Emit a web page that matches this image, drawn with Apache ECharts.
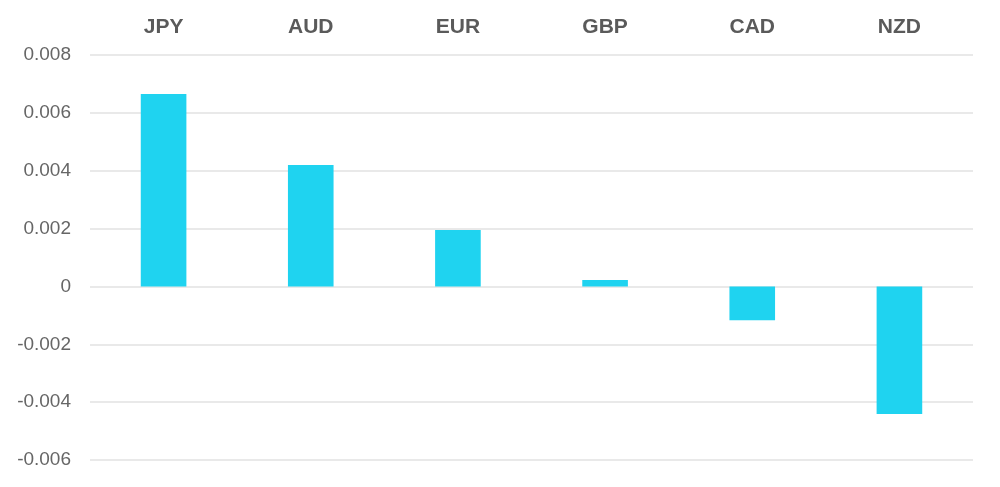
<!DOCTYPE html>
<html>
<head>
<meta charset="utf-8">
<script src="https://cdn.jsdelivr.net/npm/echarts@6/dist/echarts.min.js"></script>
<style>html,body{margin:0;padding:0;background:#fff}#c{width:1000px;height:487px}</style>
</head>
<body>
<div id="c"></div>
<script>
const categories = ['JPY', 'AUD', 'EUR', 'GBP', 'CAD', 'NZD'];
const values = [0.00665, 0.0042, 0.00195, 0.00022, -0.00117, -0.00441];
const yTicks = { min: -0.006, max: 0.008, interval: 0.002 };

const chart = echarts.init(document.getElementById('c'), null, { renderer: 'canvas' });
chart.setOption({
  animation: false,
  grid: { left: 90, right: 27, top: 55, bottom: 27, containLabel: false },
  xAxis: {
    type: 'category',
    data: categories,
    position: 'top',
    axisLine: { show: false },
    axisTick: { show: false },
    axisLabel: { color: '#5a5a5a', fontSize: 21, fontWeight: 'bold', fontFamily: 'Liberation Sans, Arial, sans-serif', margin: 17 }
  },
  yAxis: {
    type: 'value',
    min: yTicks.min, max: yTicks.max, interval: yTicks.interval,
    axisLine: { show: false },
    axisTick: { show: false },
    splitLine: { lineStyle: { color: '#e2e2e2', width: 1.5 } },
    axisLabel: {
      color: '#666', fontSize: 19, fontFamily: 'Liberation Sans, Arial, sans-serif', margin: 19,
      formatter: v => (Math.abs(v) < 1e-12 ? '0' : v.toFixed(3))
    }
  },
  series: [{
    type: 'bar',
    data: values,
    barWidth: '31%',
    itemStyle: { color: '#1fd3f0' }
  }]
});
</script>
</body>
</html>
